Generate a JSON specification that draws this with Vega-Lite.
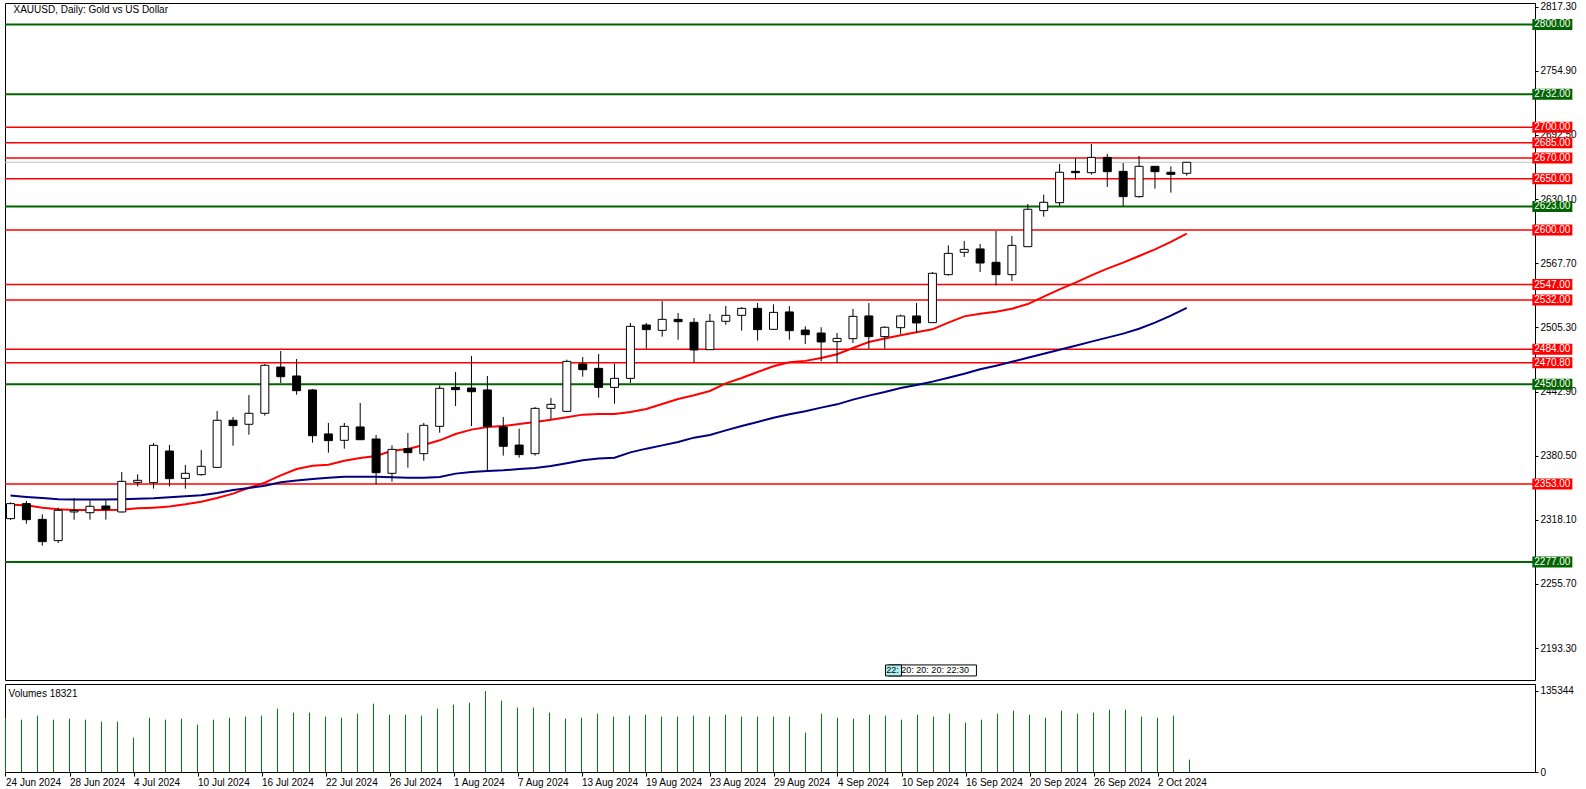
{
  "$schema": "https://vega.github.io/schema/vega-lite/v6.json",
  "background": "white",
  "padding": {"left": 3, "top": 1, "right": 0, "bottom": 0},
  "spacing": 2,
  "config": {
    "view": {"stroke": "black", "strokeWidth": 1},
    "axis": {"labelFont": "Liberation Sans", "labelFontSize": 10, "labelColor": "black", "domainColor": "black", "tickColor": "black", "grid": false},
    "text": {"font": "Liberation Sans"}
  },
  "datasets": {
    "bars": [
      {"i":0,"o":2319.2,"h":2335.0,"l":2318.0,"c":2333.8,"v":90000,"m1":2332.8,"m2":2341.6},
      {"i":1,"o":2333.8,"h":2336.4,"l":2314.3,"c":2318.2,"v":87449,"m1":2332.2,"m2":2340.3},
      {"i":2,"o":2318.5,"h":2323.4,"l":2292.9,"c":2296.8,"v":94133,"m1":2329.9,"m2":2339.3},
      {"i":3,"o":2297.8,"h":2329.9,"l":2295.5,"c":2327.3,"v":87449,"m1":2328.3,"m2":2338.0},
      {"i":4,"o":2325.7,"h":2339.3,"l":2318.2,"c":2327.0,"v":89120,"m1":2327.6,"m2":2337.7},
      {"i":5,"o":2325.0,"h":2337.0,"l":2318.2,"c":2331.2,"v":87449,"m1":2327.6,"m2":2337.7},
      {"i":6,"o":2331.5,"h":2337.0,"l":2318.2,"c":2328.3,"v":84107,"m1":2327.6,"m2":2337.7},
      {"i":7,"o":2325.7,"h":2364.6,"l":2325.0,"c":2355.5,"v":84107,"m1":2327.9,"m2":2338.0},
      {"i":8,"o":2354.5,"h":2362.3,"l":2350.6,"c":2356.5,"v":57371,"m1":2329.2,"m2":2338.6},
      {"i":9,"o":2354.2,"h":2392.8,"l":2348.4,"c":2390.5,"v":90791,"m1":2329.9,"m2":2339.0},
      {"i":10,"o":2385.0,"h":2390.9,"l":2350.6,"c":2358.1,"v":87449,"m1":2330.9,"m2":2339.9},
      {"i":11,"o":2358.4,"h":2371.4,"l":2348.4,"c":2363.3,"v":89120,"m1":2333.1,"m2":2340.9},
      {"i":12,"o":2362.0,"h":2386.0,"l":2361.0,"c":2370.1,"v":79094,"m1":2335.7,"m2":2341.9},
      {"i":13,"o":2369.1,"h":2423.9,"l":2369.1,"c":2414.9,"v":87449,"m1":2339.3,"m2":2344.2},
      {"i":14,"o":2414.9,"h":2418.1,"l":2390.2,"c":2409.7,"v":90791,"m1":2343.5,"m2":2347.1},
      {"i":15,"o":2411.0,"h":2439.5,"l":2400.9,"c":2421.7,"v":92462,"m1":2349.3,"m2":2349.0},
      {"i":16,"o":2421.7,"h":2469.7,"l":2419.4,"c":2468.4,"v":94133,"m1":2354.2,"m2":2351.3},
      {"i":17,"o":2466.7,"h":2482.3,"l":2451.2,"c":2457.3,"v":105830,"m1":2361.3,"m2":2354.5},
      {"i":18,"o":2458.0,"h":2474.5,"l":2439.8,"c":2443.7,"v":99146,"m1":2367.5,"m2":2356.2},
      {"i":19,"o":2444.4,"h":2445.3,"l":2393.1,"c":2399.9,"v":99146,"m1":2370.7,"m2":2357.8},
      {"i":20,"o":2401.6,"h":2412.3,"l":2383.4,"c":2395.1,"v":92462,"m1":2371.7,"m2":2359.1},
      {"i":21,"o":2395.4,"h":2412.3,"l":2387.3,"c":2409.0,"v":90791,"m1":2375.6,"m2":2360.0},
      {"i":22,"o":2408.4,"h":2431.7,"l":2396.0,"c":2396.0,"v":97475,"m1":2378.2,"m2":2360.0},
      {"i":23,"o":2396.7,"h":2400.6,"l":2352.6,"c":2363.9,"v":114185,"m1":2380.1,"m2":2360.0},
      {"i":24,"o":2363.3,"h":2390.5,"l":2355.2,"c":2386.6,"v":95804,"m1":2385.3,"m2":2359.4},
      {"i":25,"o":2387.3,"h":2402.5,"l":2368.8,"c":2383.4,"v":95804,"m1":2386.9,"m2":2359.1},
      {"i":26,"o":2382.4,"h":2412.3,"l":2375.6,"c":2410.0,"v":94133,"m1":2390.8,"m2":2359.1},
      {"i":27,"o":2409.0,"h":2448.9,"l":2402.8,"c":2446.0,"v":105830,"m1":2395.4,"m2":2359.7},
      {"i":28,"o":2446.9,"h":2461.9,"l":2428.8,"c":2444.7,"v":112514,"m1":2401.5,"m2":2363.0},
      {"i":29,"o":2446.3,"h":2477.4,"l":2409.3,"c":2442.7,"v":115856,"m1":2405.8,"m2":2364.6},
      {"i":30,"o":2444.4,"h":2458.0,"l":2366.2,"c":2409.0,"v":135344,"m1":2408.3,"m2":2365.6},
      {"i":31,"o":2408.4,"h":2418.1,"l":2380.5,"c":2389.6,"v":119198,"m1":2409.3,"m2":2366.2},
      {"i":32,"o":2390.8,"h":2406.7,"l":2378.5,"c":2381.5,"v":107501,"m1":2411.3,"m2":2367.5},
      {"i":33,"o":2382.4,"h":2427.8,"l":2380.5,"c":2426.5,"v":107501,"m1":2413.2,"m2":2368.5},
      {"i":34,"o":2426.5,"h":2436.6,"l":2416.1,"c":2430.4,"v":99146,"m1":2415.5,"m2":2370.4},
      {"i":35,"o":2423.6,"h":2473.9,"l":2422.9,"c":2472.2,"v":89120,"m1":2417.8,"m2":2373.0},
      {"i":36,"o":2469.7,"h":2476.5,"l":2457.3,"c":2464.1,"v":90791,"m1":2420.4,"m2":2375.9},
      {"i":37,"o":2465.4,"h":2479.4,"l":2436.9,"c":2446.9,"v":97475,"m1":2421.0,"m2":2377.6},
      {"i":38,"o":2446.9,"h":2470.0,"l":2431.1,"c":2455.7,"v":92462,"m1":2421.0,"m2":2378.5},
      {"i":39,"o":2455.7,"h":2509.6,"l":2451.2,"c":2506.3,"v":94133,"m1":2423.0,"m2":2383.7},
      {"i":40,"o":2507.6,"h":2509.6,"l":2484.6,"c":2503.1,"v":95804,"m1":2425.9,"m2":2387.3},
      {"i":41,"o":2502.4,"h":2530.9,"l":2496.3,"c":2513.1,"v":92462,"m1":2430.7,"m2":2390.5},
      {"i":42,"o":2513.1,"h":2519.3,"l":2493.3,"c":2510.8,"v":92462,"m1":2435.6,"m2":2393.8},
      {"i":43,"o":2510.2,"h":2514.4,"l":2470.9,"c":2483.3,"v":94133,"m1":2439.2,"m2":2398.0},
      {"i":44,"o":2483.6,"h":2518.3,"l":2483.6,"c":2511.2,"v":92462,"m1":2443.4,"m2":2400.6},
      {"i":45,"o":2511.2,"h":2526.1,"l":2507.9,"c":2517.0,"v":95804,"m1":2450.8,"m2":2405.1},
      {"i":46,"o":2517.0,"h":2525.1,"l":2502.1,"c":2523.8,"v":92462,"m1":2456.0,"m2":2409.3},
      {"i":47,"o":2523.8,"h":2529.0,"l":2492.4,"c":2503.1,"v":92462,"m1":2461.9,"m2":2413.2},
      {"i":48,"o":2503.4,"h":2527.7,"l":2503.4,"c":2519.9,"v":92462,"m1":2467.4,"m2":2417.4},
      {"i":49,"o":2520.3,"h":2526.1,"l":2493.3,"c":2502.1,"v":92462,"m1":2471.3,"m2":2420.7},
      {"i":50,"o":2502.7,"h":2506.3,"l":2489.1,"c":2498.2,"v":65726,"m1":2472.7,"m2":2423.6},
      {"i":51,"o":2499.8,"h":2505.4,"l":2472.3,"c":2491.1,"v":97475,"m1":2475.5,"m2":2427.2},
      {"i":52,"o":2491.4,"h":2499.8,"l":2470.6,"c":2494.6,"v":90791,"m1":2479.2,"m2":2430.4},
      {"i":53,"o":2494.3,"h":2523.2,"l":2490.1,"c":2516.0,"v":89120,"m1":2485.2,"m2":2435.0},
      {"i":54,"o":2516.4,"h":2529.0,"l":2484.6,"c":2496.3,"v":95804,"m1":2491.0,"m2":2438.9},
      {"i":55,"o":2496.3,"h":2506.3,"l":2484.6,"c":2505.4,"v":94133,"m1":2494.5,"m2":2442.4},
      {"i":56,"o":2505.0,"h":2517.7,"l":2498.9,"c":2516.4,"v":87449,"m1":2497.6,"m2":2446.3},
      {"i":57,"o":2516.4,"h":2529.0,"l":2499.8,"c":2509.6,"v":95804,"m1":2500.5,"m2":2449.2},
      {"i":58,"o":2509.9,"h":2559.2,"l":2509.9,"c":2557.9,"v":92462,"m1":2503.4,"m2":2452.5},
      {"i":59,"o":2556.6,"h":2585.1,"l":2555.6,"c":2577.3,"v":97475,"m1":2509.9,"m2":2456.3},
      {"i":60,"o":2578.3,"h":2589.3,"l":2573.8,"c":2581.2,"v":82436,"m1":2516.0,"m2":2460.2},
      {"i":61,"o":2581.6,"h":2586.4,"l":2559.2,"c":2567.9,"v":87449,"m1":2518.6,"m2":2464.5},
      {"i":62,"o":2568.6,"h":2599.1,"l":2546.2,"c":2556.6,"v":97475,"m1":2520.6,"m2":2468.0},
      {"i":63,"o":2556.6,"h":2594.2,"l":2550.4,"c":2585.1,"v":102488,"m1":2523.5,"m2":2471.9},
      {"i":64,"o":2583.8,"h":2625.3,"l":2583.8,"c":2620.2,"v":95804,"m1":2528.0,"m2":2475.8},
      {"i":65,"o":2618.9,"h":2634.4,"l":2613.0,"c":2627.0,"v":90791,"m1":2535.2,"m2":2479.7},
      {"i":66,"o":2626.6,"h":2664.3,"l":2623.4,"c":2656.2,"v":102488,"m1":2542.3,"m2":2483.6},
      {"i":67,"o":2657.1,"h":2670.1,"l":2649.3,"c":2655.8,"v":97475,"m1":2548.8,"m2":2487.5},
      {"i":68,"o":2655.8,"h":2683.7,"l":2653.9,"c":2670.7,"v":99146,"m1":2555.9,"m2":2491.4},
      {"i":69,"o":2670.7,"h":2674.0,"l":2641.9,"c":2656.8,"v":104159,"m1":2562.4,"m2":2495.3},
      {"i":70,"o":2657.1,"h":2665.2,"l":2623.4,"c":2632.5,"v":104159,"m1":2568.3,"m2":2499.2},
      {"i":71,"o":2632.5,"h":2672.0,"l":2631.5,"c":2662.0,"v":92462,"m1":2574.7,"m2":2504.0},
      {"i":72,"o":2662.0,"h":2662.0,"l":2640.3,"c":2656.8,"v":90791,"m1":2581.2,"m2":2509.9},
      {"i":73,"o":2656.2,"h":2662.0,"l":2636.4,"c":2654.2,"v":94133,"m1":2588.4,"m2":2516.7},
      {"i":74,"o":2655.2,"h":2665.9,"l":2652.9,"c":2665.9,"v":20609,"m1":2596.5,"m2":2524.2}
    ],
    "levels": [
      {"price":2800,"kind":"g"},{"price":2732,"kind":"g"},{"price":2700,"kind":"r"},{"price":2685,"kind":"r"},
      {"price":2670,"kind":"r"},{"price":2650,"kind":"r"},{"price":2623,"kind":"g"},{"price":2600,"kind":"r"},
      {"price":2547,"kind":"r"},{"price":2532,"kind":"r"},{"price":2484,"kind":"r"},{"price":2470.8,"kind":"r"},
      {"price":2450,"kind":"g"},{"price":2353,"kind":"r"},{"price":2277,"kind":"g"},{"price":2665.9,"kind":"bid"}
    ]
  },
  "vconcat": [
    {
      "width": 1530,
      "height": 677,
      "layer": [
        {
          "data": {"name": "levels"},
          "mark": {"type": "rule"},
          "encoding": {
            "y": {"field": "price", "type": "quantitative",
                  "scale": {"domain": [2162.2, 2820.9], "nice": false, "zero": false},
                  "axis": {"orient": "right", "title": null, "format": ".2f", "tickSize": 3, "labelPadding": 2,
                           "values": [2193.3,2224.5,2255.7,2286.9,2318.1,2349.3,2380.5,2411.7,2442.9,2474.1,2505.3,2536.5,2567.7,2598.9,2630.1,2661.3,2692.5,2723.7,2754.9,2786.1,2817.3]}},
            "color": {"field": "kind", "type": "nominal", "scale": {"domain": ["g","r","bid"], "range": ["#006400","#ff0000","#c0c0c0"]}, "legend": null},
            "strokeWidth": {"field": "kind", "type": "nominal", "scale": {"domain": ["g","r","bid"], "range": [2,1,1]}, "legend": null}
          }
        },
        {
          "data": {"name": "levels"},
          "transform": [{"filter": "datum.kind != 'bid'"}],
          "mark": {"type": "tick", "orient": "horizontal", "size": 40, "thickness": 11, "opacity": 1, "clip": false},
          "encoding": {
            "x": {"datum": 97.0, "type": "quantitative", "scale": {"domain": [-0.03125, 95.59375], "nice": false, "zero": false}, "axis": null},
            "y": {"field": "price", "type": "quantitative", "scale": {"domain": [2162.2, 2820.9], "nice": false, "zero": false}},
            "color": {"field": "kind", "type": "nominal", "scale": {"domain": ["g","r","bid"], "range": ["#006400","#ff0000","#c0c0c0"]}, "legend": null}
          }
        },
        {
          "data": {"name": "levels"},
          "transform": [{"filter": "datum.kind != 'bid'"}],
          "mark": {"type": "text", "color": "white", "fontSize": 10, "align": "center", "baseline": "middle", "clip": false},
          "encoding": {
            "x": {"datum": 97.0, "type": "quantitative", "scale": {"domain": [-0.03125, 95.59375], "nice": false, "zero": false}, "axis": null},
            "y": {"field": "price", "type": "quantitative", "scale": {"domain": [2162.2, 2820.9], "nice": false, "zero": false}},
            "text": {"field": "price", "type": "quantitative", "format": ".2f"}
          }
        },
        {
          "data": {"name": "bars"},
          "mark": {"type": "line", "color": "#ff0000", "strokeWidth": 2, "clip": true},
          "encoding": {
            "x": {"field": "i", "type": "quantitative", "scale": {"domain": [-0.03125, 95.59375], "nice": false, "zero": false}, "axis": null},
            "y": {"field": "m1", "type": "quantitative", "scale": {"domain": [2162.2, 2820.9], "nice": false, "zero": false}}
          }
        },
        {
          "data": {"name": "bars"},
          "mark": {"type": "line", "color": "#000080", "strokeWidth": 2, "clip": true},
          "encoding": {
            "x": {"field": "i", "type": "quantitative", "scale": {"domain": [-0.03125, 95.59375], "nice": false, "zero": false}, "axis": null},
            "y": {"field": "m2", "type": "quantitative", "scale": {"domain": [2162.2, 2820.9], "nice": false, "zero": false}}
          }
        },
        {
          "data": {"name": "bars"},
          "mark": {"type": "rule", "color": "black", "strokeWidth": 1, "clip": true},
          "encoding": {
            "x": {"field": "i", "type": "quantitative", "scale": {"domain": [-0.03125, 95.59375], "nice": false, "zero": false}, "axis": null},
            "y": {"field": "l", "type": "quantitative", "scale": {"domain": [2162.2, 2820.9], "nice": false, "zero": false}},
            "y2": {"field": "h"}
          }
        },
        {
          "data": {"name": "bars"},
          "mark": {"type": "bar", "width": 8, "stroke": "black", "strokeWidth": 1, "clip": true},
          "encoding": {
            "x": {"field": "i", "type": "quantitative", "scale": {"domain": [-0.03125, 95.59375], "nice": false, "zero": false}, "axis": null},
            "y": {"field": "o", "type": "quantitative", "scale": {"domain": [2162.2, 2820.9], "nice": false, "zero": false}},
            "y2": {"field": "c"},
            "fill": {"condition": {"test": "datum.c >= datum.o", "value": "white"}, "value": "black"}
          }
        },
        {
          "data": {"values": [{"t": "XAUUSD, Daily:  Gold vs US Dollar"}]},
          "mark": {"type": "text", "fontSize": 10, "align": "left", "baseline": "top", "color": "black"},
          "encoding": {
            "x": {"datum": 0.19, "type": "quantitative", "scale": {"domain": [-0.03125, 95.59375], "nice": false, "zero": false}, "axis": null},
            "y": {"datum": 2819.0, "type": "quantitative", "scale": {"domain": [2162.2, 2820.9], "nice": false, "zero": false}},
            "text": {"field": "t"}
          }
        },
        {
          "data": {"values": [{}]},
          "mark": {"type": "tick", "orient": "horizontal", "size": 88, "thickness": 11, "opacity": 1, "fill": "white", "stroke": "black", "strokeWidth": 1},
          "encoding": {
            "x": {"datum": 58.0, "type": "quantitative", "scale": {"domain": [-0.03125, 95.59375], "nice": false, "zero": false}, "axis": null},
            "y": {"datum": 2171.5, "type": "quantitative", "scale": {"domain": [2162.2, 2820.9], "nice": false, "zero": false}}
          }
        },
        {
          "data": {"values": [{}]},
          "mark": {"type": "tick", "orient": "horizontal", "size": 16, "thickness": 11, "opacity": 1, "fill": "#aeeeee", "stroke": "black", "strokeWidth": 1},
          "encoding": {
            "x": {"datum": 55.55, "type": "quantitative", "scale": {"domain": [-0.03125, 95.59375], "nice": false, "zero": false}, "axis": null},
            "y": {"datum": 2171.5, "type": "quantitative", "scale": {"domain": [2162.2, 2820.9], "nice": false, "zero": false}}
          }
        },
        {
          "data": {"values": [{"t": "22: 20: 20: 20: 22:30"}]},
          "mark": {"type": "text", "fontSize": 9, "align": "left", "baseline": "middle", "color": "black"},
          "encoding": {
            "x": {"datum": 55.1, "type": "quantitative", "scale": {"domain": [-0.03125, 95.59375], "nice": false, "zero": false}, "axis": null},
            "y": {"datum": 2171.5, "type": "quantitative", "scale": {"domain": [2162.2, 2820.9], "nice": false, "zero": false}},
            "text": {"field": "t"}
          }
        }
      ]
    },
    {
      "width": 1530,
      "height": 88,
      "layer": [
        {
          "data": {"name": "bars"},
          "mark": {"type": "rule", "color": "#008000", "strokeWidth": 1, "clip": true},
          "encoding": {
            "x": {"field": "i", "type": "quantitative", "scale": {"domain": [-0.03125, 95.59375], "nice": false, "zero": false},
                  "axis": {"title": null, "values": [0,4,8,12,16,20,24,28,32,36,40,44,48,52,56,60,64,68,72],
                           "labelExpr": "['24 Jun 2024','28 Jun 2024','4 Jul 2024','10 Jul 2024','16 Jul 2024','22 Jul 2024','26 Jul 2024','1 Aug 2024','7 Aug 2024','13 Aug 2024','19 Aug 2024','23 Aug 2024','29 Aug 2024','4 Sep 2024','10 Sep 2024','16 Sep 2024','20 Sep 2024','26 Sep 2024','2 Oct 2024'][round(datum.value/4)]",
                           "labelAlign": "left", "labelFlush": false, "labelOverlap": false, "tickSize": 4, "labelPadding": 1, "labelBaseline": "top"}},
            "y": {"field": "v", "type": "quantitative", "scale": {"domain": [0, 147000], "nice": false, "zero": false},
                  "axis": {"orient": "right", "title": null, "values": [0, 135344], "format": "d", "tickSize": 3, "labelPadding": 2}},
            "y2": {"datum": 0}
          }
        },
        {
          "data": {"values": [{"t": "Volumes 18321"}]},
          "mark": {"type": "text", "fontSize": 10, "align": "left", "baseline": "top", "color": "black"},
          "encoding": {
            "x": {"datum": 0.19, "type": "quantitative", "scale": {"domain": [-0.03125, 95.59375], "nice": false, "zero": false}},
            "y": {"datum": 139000, "type": "quantitative", "scale": {"domain": [0, 147000], "nice": false, "zero": false}},
            "text": {"field": "t"}
          }
        }
      ]
    }
  ]
}
